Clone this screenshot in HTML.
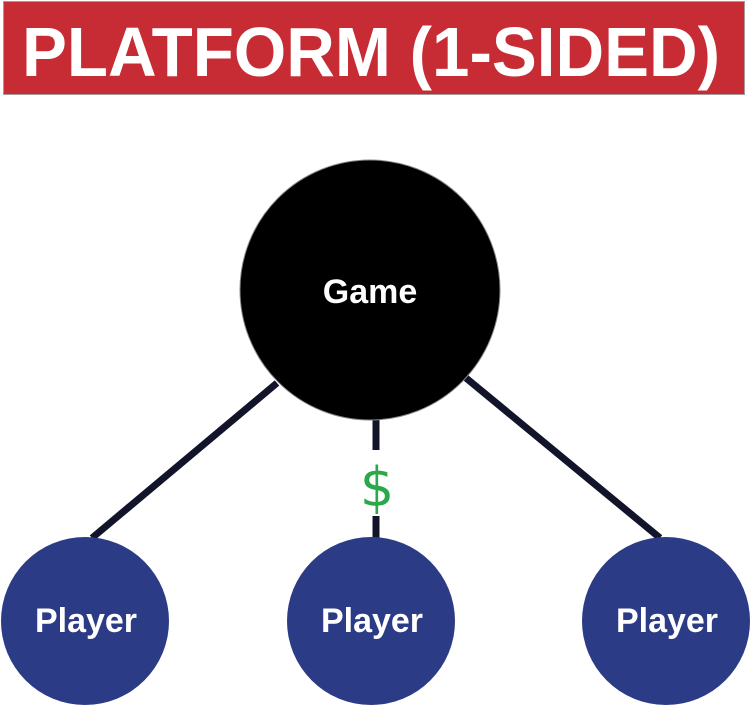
<!DOCTYPE html>
<html><head><meta charset="utf-8"><style>
html,body{margin:0;padding:0;background:#fff;width:750px;height:728px;overflow:hidden}
</style></head><body>
<svg width="750" height="728" viewBox="0 0 750 728" xmlns="http://www.w3.org/2000/svg">
<rect x="3.5" y="1.5" width="741" height="93" fill="#c72c35" stroke="#a89a9c" stroke-width="1"/>
<text x="22" y="76" font-family="Liberation Sans, sans-serif" font-weight="bold" font-size="70" fill="#fff" textLength="698" lengthAdjust="spacingAndGlyphs">PLATFORM (1-SIDED)</text>
<line x1="277" y1="383" x2="92" y2="538" stroke="#12142a" stroke-width="7"/>
<line x1="466" y1="378" x2="660" y2="538" stroke="#12142a" stroke-width="7"/>
<line x1="376" y1="418" x2="376" y2="450" stroke="#12142a" stroke-width="7"/>
<line x1="376" y1="516" x2="376" y2="540" stroke="#12142a" stroke-width="7"/>
<circle cx="370" cy="290" r="130" fill="#000" stroke="#888" stroke-width="1"/>
<text x="370" y="303" text-anchor="middle" font-family="Liberation Sans, sans-serif" font-weight="bold" font-size="34" fill="#fff">Game</text>
<text x="377" y="506" text-anchor="middle" font-family="DejaVu Sans, sans-serif" font-size="54" fill="#2aa84a">$</text>
<circle cx="85" cy="621" r="84" fill="#2c3b85"/>
<circle cx="371" cy="621" r="84" fill="#2c3b85"/>
<circle cx="666" cy="621" r="84" fill="#2c3b85"/>
<g font-family="Liberation Sans, sans-serif" font-weight="bold" font-size="34" fill="#fff" text-anchor="middle">
<text x="86" y="632">Player</text>
<text x="372" y="632">Player</text>
<text x="667" y="632">Player</text>
</g>
</svg>
</body></html>
